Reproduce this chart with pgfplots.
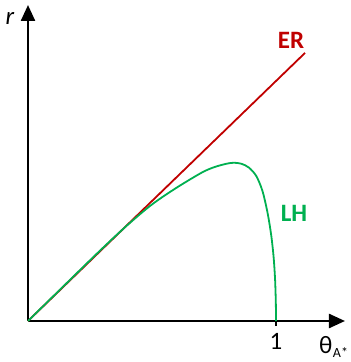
\documentclass[border=0pt]{standalone}
\usepackage{pgfplots}
\pgfplotsset{compat=1.18}
\usepackage{fontspec}
\setmainfont{Carlito}
\usetikzlibrary{arrows.meta}
\definecolor{erred}{HTML}{C00000}
\definecolor{lhgreen}{HTML}{00B050}
\begin{document}
\begin{tikzpicture}[x=1pt,y=1pt]
\useasboundingbox (-28,-41) rectangle (323,321);
\begin{axis}[
  at={(0,0)}, anchor=origin,
  scale only axis, width=317pt, height=316pt,
  xmin=0, xmax=1.278, ymin=0, ymax=1.274,
  axis lines=left,
  axis line style={line width=2.4pt, -{Triangle[length=16pt,width=14pt]}},
  xtick={1}, ytick=\empty,
  xticklabels={},
  tick align=center,
  major tick length=10pt,
  tick style={black, line width=1.6pt},
  clip=false,
]
% equal reaction line
\addplot[erred, line width=1.8pt] coordinates {(0,0) (1.117,1.081)};
% lateral heterogeneity curve
\addplot[lhgreen, line width=1.8pt, smooth, tension=0.5] coordinates {
  (0,0) (0.1,0.098) (0.2,0.196) (0.3,0.293) (0.4,0.386) (0.5,0.470)
  (0.6,0.538) (0.7,0.598) (0.75,0.620) (0.8,0.634) (0.83,0.638)
  (0.86,0.634) (0.89,0.619) (0.92,0.585) (0.945,0.525) (0.965,0.44)
  (0.98,0.35) (0.99,0.26) (0.996,0.17) (0.999,0.08) (1,0)
};
\end{axis}
\node[font=\fontsize{25}{28}\selectfont\itshape] at (-18,303) {r};
\node[font=\fontsize{25}{28}\selectfont\bfseries, text=erred] at (263,281) {ER};
\node[font=\fontsize{25}{28}\selectfont\bfseries, text=lhgreen] at (266,108) {LH};
\node[font=\fontsize{25}{28}\selectfont] at (248,-20) {1};
\node[font=\fontsize{25}{28}\selectfont, anchor=base west, inner sep=0pt] at (291,-32)
  {θ\kern0.5pt\raisebox{-4pt}{\fontsize{14}{14}\selectfont A*}};
\end{tikzpicture}
\end{document}
